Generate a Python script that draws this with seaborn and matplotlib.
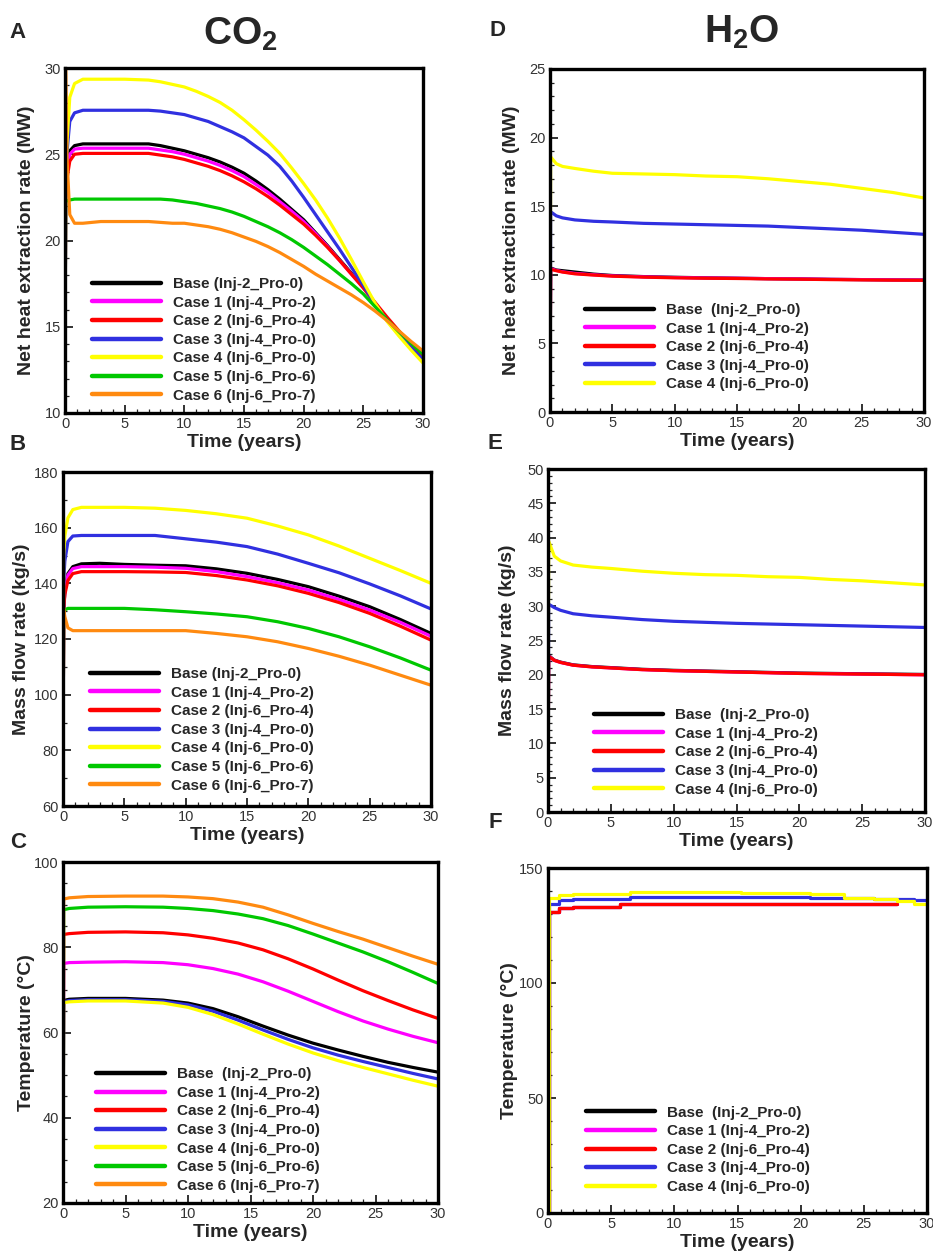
import numpy as np
import pandas as pd
import matplotlib
matplotlib.use("Agg")
import matplotlib.pyplot as plt
import seaborn as sns
from matplotlib.ticker import MultipleLocator

sns.set_theme(style="white")
plt.rcParams['font.family'] = ['Liberation Sans', 'DejaVu Sans']
plt.rcParams['mathtext.fontset'] = 'custom'
plt.rcParams['mathtext.rm'] = 'Liberation Sans:bold'
plt.rcParams['mathtext.default'] = 'rm'

# ---------------- data ----------------
names7 = ["Base (Inj-2_Pro-0)", "Case 1 (Inj-4_Pro-2)", "Case 2 (Inj-6_Pro-4)",
          "Case 3 (Inj-4_Pro-0)", "Case 4 (Inj-6_Pro-0)", "Case 5 (Inj-6_Pro-6)",
          "Case 6 (Inj-6_Pro-7)"]
names7c = ["Base  (Inj-2_Pro-0)"] + names7[1:]
names5 = ["Base  (Inj-2_Pro-0)", "Case 1 (Inj-4_Pro-2)", "Case 2 (Inj-6_Pro-4)",
          "Case 3 (Inj-4_Pro-0)", "Case 4 (Inj-6_Pro-0)"]
colors7 = ["#000000", "#ff00ff", "#ff0000", "#3030e0", "#ffff00", "#00c800", "#ff8a10"]

# Panel A: CO2 net heat extraction rate (MW)
tA = [0, 0.05, 0.15, 0.4, 0.8, 1.5, 3, 5, 7, 8, 9, 10, 11, 12, 13, 14, 15, 16, 17, 18,
      19, 20, 21, 22, 23, 24, 25, 26, 27, 28, 29, 30]
A_base = [10, 22.5, 24.0, 25.2, 25.5, 25.6, 25.6, 25.6, 25.6, 25.5, 25.35, 25.2, 25.0, 24.8, 24.55,
          24.25, 23.9, 23.45, 22.95, 22.4, 21.8, 21.2, 20.45, 19.7, 18.9, 18.1, 17.3, 16.3, 15.4,
          14.55, 13.75, 13.0]
A_c1 = [10, 22.5, 23.8, 25.0, 25.3, 25.35, 25.35, 25.35, 25.35, 25.25, 25.15, 25.0, 24.8, 24.6, 24.35,
        24.05, 23.7, 23.25, 22.8, 22.25, 21.7, 21.1, 20.4, 19.65, 18.85, 18.05, 17.25, 16.35, 15.45,
        14.65, 13.85, 13.1]
A_c2 = [10, 22.5, 23.5, 24.6, 25.0, 25.05, 25.05, 25.05, 25.05, 24.95, 24.85, 24.7, 24.5, 24.3, 24.05,
        23.75, 23.4, 23.0, 22.55, 22.05, 21.5, 20.95, 20.3, 19.6, 18.85, 18.05, 17.25, 16.4, 15.55,
        14.75, 13.95, 13.2]
A_c3 = [10, 22.5, 25.0, 26.9, 27.4, 27.55, 27.55, 27.55, 27.55, 27.5, 27.4, 27.3, 27.1, 26.9, 26.6,
        26.3, 25.95, 25.45, 24.95, 24.3, 23.45, 22.5, 21.5, 20.5, 19.5, 18.45, 17.4, 16.3, 15.35,
        14.55, 13.8, 13.1]
A_c4 = [10, 22.5, 25.5, 28.3, 29.1, 29.35, 29.35, 29.35, 29.3, 29.2, 29.05, 28.9, 28.65, 28.35, 28.0,
        27.55, 27.0, 26.4, 25.75, 25.05, 24.2, 23.3, 22.35, 21.3, 20.15, 18.9, 17.6, 16.35, 15.3,
        14.45, 13.65, 12.9]
A_c5 = [10, 22.3, 22.3, 22.35, 22.4, 22.4, 22.4, 22.4, 22.4, 22.4, 22.35, 22.25, 22.15, 22.0, 21.85,
        21.65, 21.4, 21.1, 20.8, 20.45, 20.05, 19.6, 19.1, 18.6, 18.05, 17.5, 16.9, 16.15, 15.4,
        14.7, 14.05, 13.4]
A_c6 = [10, 30.0, 25.0, 21.5, 21.0, 21.0, 21.1, 21.1, 21.1, 21.05, 21.0, 21.0, 20.9, 20.8, 20.65,
        20.45, 20.2, 19.95, 19.65, 19.3, 18.9, 18.5, 18.05, 17.65, 17.25, 16.85, 16.4, 15.9, 15.35,
        14.75, 14.15, 13.6]

# Panel B: CO2 mass flow rate (kg/s)
tB = [0, 0.05, 0.15, 0.4, 0.8, 1.5, 3, 5, 7.5, 10, 12.5, 15, 17.5, 20, 22.5, 25, 27.5, 30]
B_base = [60, 130, 137, 143.5, 146, 147, 147.2, 146.8, 146.5, 146.3, 145.2, 143.6, 141.4, 138.8, 135.4, 131.6, 127, 122]
B_c1 = [60, 130, 137, 143, 145.3, 146, 146, 146, 145.8, 145.4, 144.2, 142.4, 140.2, 137.6, 134.2, 130.4, 126, 121]
B_c2 = [60, 130, 136, 141, 143.5, 144.2, 144.2, 144.2, 144.1, 143.9, 142.8, 141.2, 139.1, 136.4, 133.1, 129.2, 124.6, 119.6]
B_c3 = [60, 140, 148, 155, 157, 157.2, 157.2, 157.2, 157.2, 156, 154.8, 153.2, 150.5, 147.2, 143.8, 139.8, 135.5, 130.8]
B_c4 = [60, 150, 157, 163.5, 166.5, 167.3, 167.3, 167.3, 167, 166.2, 165, 163.4, 160.6, 157.4, 153.4, 149, 144.6, 140]
B_c5 = [60, 130, 130.5, 131, 131, 131, 131, 131, 130.5, 129.8, 129, 128, 126.2, 123.8, 120.8, 117.2, 113.2, 108.8]
B_c6 = [60, 131, 128, 124, 123, 123, 123, 123, 123, 123, 122, 120.8, 119, 116.6, 113.8, 110.6, 107, 103.4]

# Panel C: CO2 temperature (°C)
tC = [0, 0.05, 0.5, 2, 5, 8, 10, 12, 14, 16, 18, 20, 22, 24, 26, 28, 30]
C_base = [20, 67.5, 67.8, 68.0, 68.0, 67.6, 66.9, 65.6, 63.7, 61.5, 59.4, 57.5, 55.9, 54.4, 53.0, 51.8, 50.7]
C_c1 = [20, 76.2, 76.4, 76.5, 76.6, 76.4, 75.9, 75.0, 73.7, 71.9, 69.7, 67.3, 64.9, 62.7, 60.8, 59.1, 57.6]
C_c2 = [20, 83.0, 83.2, 83.5, 83.6, 83.4, 82.9, 82.1, 81.0, 79.4, 77.3, 74.9, 72.3, 69.8, 67.5, 65.3, 63.3]
C_c3 = [20, 67.2, 67.5, 67.7, 67.7, 67.3, 66.5, 65.0, 62.9, 60.6, 58.4, 56.4, 54.7, 53.2, 51.8, 50.4, 49.1]
C_c4 = [20, 67.0, 67.2, 67.4, 67.4, 66.9, 65.9, 64.2, 62.0, 59.6, 57.3, 55.2, 53.4, 51.8, 50.3, 48.8, 47.4]
C_c5 = [20, 88.8, 89.1, 89.4, 89.5, 89.4, 89.1, 88.6, 87.8, 86.7, 85.1, 83.1, 81.0, 78.9, 76.6, 74.1, 71.5]
C_c6 = [20, 91.3, 91.6, 91.9, 92.0, 92.0, 91.8, 91.4, 90.6, 89.4, 87.6, 85.6, 83.7, 81.9, 79.9, 77.9, 76.0]

# Panel D: H2O net heat extraction rate (MW)
tD = [0, 0.05, 0.5, 1, 2, 3.5, 5, 7.5, 10, 12.5, 15, 17.5, 20, 22.5, 25, 27.5, 30]
D_base = [0, 10.5, 10.35, 10.3, 10.2, 10.05, 9.95, 9.87, 9.82, 9.78, 9.75, 9.72, 9.7, 9.67, 9.65, 9.63, 9.62]
D_c1 = [0, 10.45, 10.32, 10.22, 10.1, 10.0, 9.92, 9.85, 9.8, 9.77, 9.75, 9.72, 9.7, 9.67, 9.65, 9.63, 9.62]
D_c2 = [0, 10.4, 10.3, 10.2, 10.07, 9.98, 9.9, 9.83, 9.78, 9.75, 9.73, 9.7, 9.68, 9.65, 9.63, 9.61, 9.6]
D_c3 = [0, 14.6, 14.3, 14.15, 14.0, 13.9, 13.85, 13.75, 13.7, 13.65, 13.6, 13.55, 13.45, 13.35, 13.25, 13.1, 12.95]
D_c4 = [0, 18.6, 18.1, 17.9, 17.75, 17.55, 17.4, 17.35, 17.3, 17.2, 17.15, 17.0, 16.8, 16.6, 16.3, 16.0, 15.6]

# Panel E: H2O mass flow rate (kg/s)
tE = tD
E_base = [0, 22.8, 22.15, 21.85, 21.45, 21.2, 21.05, 20.8, 20.65, 20.55, 20.45, 20.35, 20.25, 20.2, 20.15, 20.1, 20.05]
E_c1 = [0, 22.75, 22.1, 21.8, 21.4, 21.15, 21.0, 20.75, 20.6, 20.5, 20.4, 20.3, 20.2, 20.15, 20.1, 20.05, 20.0]
E_c2 = [0, 22.7, 22.1, 21.8, 21.4, 21.15, 21.0, 20.75, 20.6, 20.5, 20.4, 20.3, 20.2, 20.15, 20.1, 20.05, 20.0]
E_c3 = [0, 30.3, 29.8, 29.4, 28.9, 28.6, 28.4, 28.05, 27.8, 27.65, 27.5, 27.4, 27.3, 27.2, 27.1, 27.0, 26.9]
E_c4 = [0, 39.5, 37.3, 36.6, 36.0, 35.7, 35.5, 35.1, 34.8, 34.6, 34.5, 34.3, 34.2, 33.9, 33.7, 33.4, 33.1]

# Panel F: H2O temperature (°C), stepwise output
tF = [0, 0.1, 0.9, 2.0, 5.7, 6.5, 15.3, 20.7, 23.4, 25.8, 27.6, 29.0, 30]
tF_short = [0, 0.1, 0.9, 2.0, 5.7, 27.6]
F_base = [0, 131.0, 132.6, 133.2, 134.3, 134.3]
F_c1 = [0, 131.0, 132.6, 133.2, 134.3, 134.3]
F_c2 = [0, 131.0, 132.6, 133.2, 134.3, 134.3]
F_c3 = [0, 134.5, 136.2, 136.5, 136.5, 137.5, 137.5, 136.9, 136.9, 136.6, 136.6, 136.0, 135.5]
F_c4 = [0, 137.0, 138.2, 138.7, 138.7, 139.7, 139.2, 138.6, 136.8, 136.4, 135.5, 134.5, 134.0]

# ---------------- figure ----------------
W, H = 933, 1259
fig = plt.figure(figsize=(W / 100, H / 100), dpi=100)


def add_ax(x0, y0, x1, y1):
    return fig.add_axes([x0 / W, 1 - y1 / H, (x1 - x0) / W, (y1 - y0) / H])


def panel(ax, series, names, colors, ylim, ymaj, ymin, ylabel, leg_xy, ylab_x,
          steps=False):
    frames = []
    for (t, v), n in zip(series, names):
        frames.append(pd.DataFrame({"t": t, "v": v, "case": n}))
    df = pd.concat(frames, ignore_index=True)
    kw = dict(drawstyle="steps-post") if steps else {}
    sns.lineplot(data=df, x="t", y="v", hue="case", hue_order=names,
                 palette=dict(zip(names, colors)), estimator=None, sort=False,
                 lw=2.3, ax=ax, **kw)
    ax.set_xlim(0, 30)
    ax.set_ylim(*ylim)
    ax.xaxis.set_major_locator(MultipleLocator(5))
    ax.xaxis.set_minor_locator(MultipleLocator(1))
    ax.yaxis.set_major_locator(MultipleLocator(ymaj))
    ax.yaxis.set_minor_locator(MultipleLocator(ymin))
    ax.tick_params(which="both", direction="in", bottom=True, left=True,
                   top=False, right=False, colors="#222222")
    ax.tick_params(which="major", length=6, width=1.3, labelsize=10.5, pad=3,
                   labelcolor="#333333")
    ax.tick_params(which="minor", length=3, width=0.9)
    for s in ax.spines.values():
        s.set_linewidth(2.4)
        s.set_color("black")
    ax.set_xlabel("Time (years)", fontsize=14, fontweight="bold", labelpad=2)
    ax.set_ylabel(ylabel, fontsize=14, fontweight="bold")
    ax.yaxis.set_label_coords(ylab_x, 0.5)
    h, l = ax.get_legend_handles_labels()
    leg = ax.legend(h, l, loc="lower left", bbox_to_anchor=leg_xy, frameon=False,
                    handlelength=4.5, handletextpad=0.8, labelspacing=0.3,
                    borderpad=0, borderaxespad=0,
                    prop={"weight": "bold", "size": 11})
    for line in leg.get_lines():
        line.set_linewidth(3.2)
        line.set_drawstyle("default")


axA = add_ax(65, 68, 423, 413)
panel(axA, [(tA, A_base), (tA, A_c1), (tA, A_c2), (tA, A_c3), (tA, A_c4), (tA, A_c5), (tA, A_c6)],
      names7, colors7, (10, 30), 5, 1, "Net heat extraction rate (MW)", (0.075, 0.03), -0.085)

axB = add_ax(63, 472, 431, 806)
panel(axB, [(tB, B_base), (tB, B_c1), (tB, B_c2), (tB, B_c3), (tB, B_c4), (tB, B_c5), (tB, B_c6)],
      names7, colors7, (60, 180), 20, 10, "Mass flow rate (kg/s)", (0.073, 0.04), -0.09)

axC = add_ax(63, 862, 438, 1203)
panel(axC, [(tC, C_base), (tC, C_c1), (tC, C_c2), (tC, C_c3), (tC, C_c4), (tC, C_c5), (tC, C_c6)],
      names7c, colors7, (20, 100), 20, 5, "Temperature (\u00b0C)", (0.088, 0.03), -0.075)

axD = add_ax(550, 69, 924, 412)
panel(axD, [(tD, D_base), (tD, D_c1), (tD, D_c2), (tD, D_c3), (tD, D_c4)],
      names5, colors7[:5], (0, 25), 5, 1, "Net heat extraction rate (MW)", (0.094, 0.06), -0.08)

axE = add_ax(548, 469, 925, 812)
panel(axE, [(tE, E_base), (tE, E_c1), (tE, E_c2), (tE, E_c3), (tE, E_c4)],
      names5, colors7[:5], (0, 50), 5, 1, "Mass flow rate (kg/s)", (0.122, 0.045), -0.085)

axF = add_ax(548, 868, 927, 1213)
panel(axF, [(tF_short, F_base), (tF_short, F_c1), (tF_short, F_c2), (tF, F_c3), (tF, F_c4)],
      names5, colors7[:5], (0, 150), 50, 10, "Temperature (\u00b0C)", (0.10, 0.055), -0.08,
      steps=True)

# panel letters and column titles
for letter, (px, py) in {"A": (18, 32), "B": (18, 445), "C": (18, 843),
                         "D": (497, 30), "E": (495, 443), "F": (495, 823)}.items():
    fig.text(px / W, 1 - py / H, letter, fontsize=16, fontweight="bold",
             ha="center", va="center")
fig.text(240 / W, 1 - 34 / H, "CO$_2$", fontsize=28, fontweight="bold",
         ha="center", va="center")
fig.text(742 / W, 1 - 32 / H, "H$_2$O", fontsize=28, fontweight="bold",
         ha="center", va="center")

fig.savefig("out.png", dpi=100)
